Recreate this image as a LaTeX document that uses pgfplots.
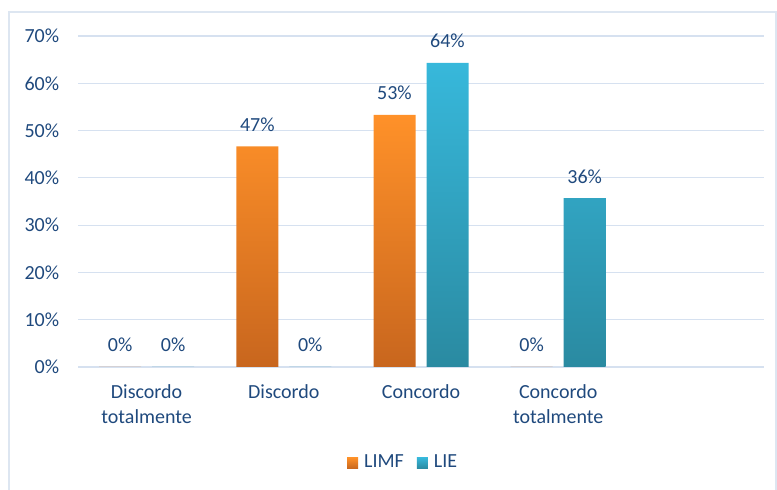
\documentclass[border=0pt]{standalone}
\usepackage{fontspec}
\setmainfont{Carlito}
\usepackage{pgfplots}
\pgfplotsset{compat=1.18}
\definecolor{txt}{HTML}{1F497D}
\definecolor{gridc}{HTML}{D6E1F0}
\definecolor{framec}{HTML}{DDE6F1}
\definecolor{orgtop}{HTML}{FF9129}
\definecolor{orgbot}{HTML}{C8661E}
\definecolor{blutop}{HTML}{37B8DB}
\definecolor{blubot}{HTML}{2A8AA1}

\begin{document}
\fontsize{20bp}{24bp}\selectfont
\begin{tikzpicture}
\path[use as bounding box] (0,0) rectangle (777bp,490bp);
\draw[framec, line width=1.2bp] (9bp,0) -- (9bp,478bp) -- (776bp,478bp) -- (776bp,0);
\begin{axis}[
    at={(78bp,123bp)}, anchor=south west,
    scale only axis,
    width=686bp, height=331bp,
    ybar=11bp, bar width=42bp,
    xmin=-0.5, xmax=4.5,
    ymin=0, ymax=70,
    xtick={0,1,2,3},
    xticklabels={{Discordo\\totalmente},Discordo,Concordo,{Concordo\\totalmente}},
    ytick={0,10,...,70},
    yticklabel={\pgfmathprintnumber{\tick}\%},
    /pgf/number format/assume math mode=true,
    major tick length=0,
    axis line style={draw=none},
    ymajorgrids,
    grid style={gridc, line width=1.2bp},
    tick label style={font=\fontsize{20bp}{25bp}\selectfont, text=txt},
    x tick label style={align=center, yshift=-11bp},
    y tick label style={xshift=-12bp},
    nodes near coords={\pgfmathprintnumber[fixed,precision=0]{\pgfplotspointmeta}\%},
    every node near coord/.append style={font=\fontsize{20bp}{24bp}\selectfont, text=txt, yshift=8bp},
    legend style={at={(0.474,-0.29)}, anchor=center, draw=none, fill=none,
        legend columns=2, font=\fontsize{20bp}{24bp}\selectfont, text=txt,
        /tikz/every even column/.append style={column sep=11bp}},
    legend image code/.code={\path (0bp,0bp) -- (15bp,0bp);
        \path[#1] (0bp,-5.5bp) rectangle (11bp,5.5bp);},
]
\addplot[draw=none, top color=orgtop, bottom color=orgbot] coordinates {
    (0,0) (1,46.67) (2,53.33) (3,0)
};
\addplot[draw=none, top color=blutop, bottom color=blubot] coordinates {
    (0,0) (1,0) (2,64.29) (3,35.71)
};
\legend{LIMF, LIE}
\end{axis}
\end{tikzpicture}
\end{document}
